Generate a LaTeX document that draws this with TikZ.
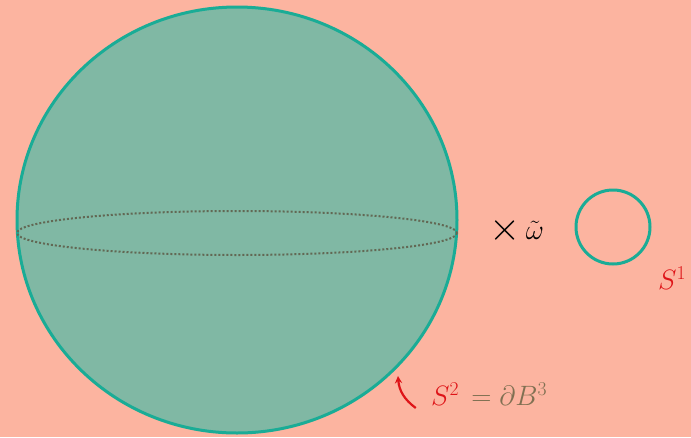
\documentclass[tikz,border=0pt]{standalone}
\usepackage{fix-cm}
\usepackage{amsmath}
\usetikzlibrary{positioning}
\definecolor{bgsalmon}{RGB}{252,180,160}
\definecolor{ballfill}{RGB}{128,184,164}
\definecolor{rimteal}{RGB}{26,172,150}
\definecolor{dotgray}{RGB}{98,104,84}
\definecolor{inkred}{RGB}{222,20,24}
\definecolor{inkbrown}{RGB}{128,112,82}
\begin{document}
\begin{tikzpicture}[x=1pt,y=-1pt,>=stealth,
 rim/.style={draw=rimteal,line width=3pt},
 lab/.style={inner sep=1pt,font=\fontsize{28}{30}\selectfont}]
\fill[bgsalmon] (0,0) rectangle (691,437);
\useasboundingbox (0,0) rectangle (691,437);
\clip (0,0) rectangle (691,437);
% the ball and its equator
\coordinate (ball) at (237,220);
\coordinate (eq) at (237,233);
\draw[rim,fill=ballfill] (ball) ellipse (220 and 213);
\draw[dotgray,line width=2pt,dotted] (eq) ellipse (220 and 22);
% the circle
\node[rim,circle,minimum size=74pt,inner sep=0pt] (circ) at (613,227) {};
\node[lab,text=black,font=\fontsize{40}{42}\selectfont] (times) at (505,230) {$\times$};
\node[lab,text=black,right=3pt of times] (omega) {$\tilde{\omega}$};
\node[lab,text=inkred] (sone) at (672,278) {$S^1$};
% labels of the sphere
\node[lab,text=inkred] (stwo) at (445,394) {$S^2$};
\node[lab,text=inkbrown,right=10pt of stwo.east,anchor=west] (bdry) {$=\partial B^3$};
\coordinate (tip) at (398,376);
\draw[->,inkred,line width=2.2pt] (stwo.west) ++(-14,14) to[bend left=25] (tip);
\end{tikzpicture}
\end{document}
